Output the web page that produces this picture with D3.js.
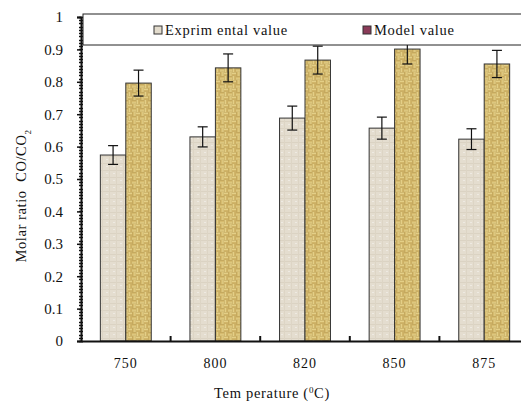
<!DOCTYPE html>
<html>
<head>
<meta charset="utf-8">
<script src="https://cdn.jsdelivr.net/npm/d3@7"></script>
<style>
  body { margin: 0; background: #fff; }
  text { font-family: "Liberation Serif", "Times New Roman", serif; fill: #111; }
</style>
</head>
<body>
<script>
var temperatures = ["750", "800", "820", "850", "875"];
var experimental = [0.574, 0.630, 0.688, 0.657, 0.623];
var experimentalErr = [0.029, 0.031, 0.037, 0.034, 0.032];
var model = [0.796, 0.843, 0.867, 0.901, 0.855];
var modelErr = [0.040, 0.043, 0.043, 0.046, 0.042];
var yTicks = [0, 0.1, 0.2, 0.3, 0.4, 0.5, 0.6, 0.7, 0.8, 0.9, 1];
var seriesNames = ["Exprim ental value", "Model value"];

var width = 521, height = 402;
var plotLeft = 81, plotRight = 529, plotTop = 17, plotBottom = 341;
var serif = '"Liberation Serif", "Times New Roman", serif';

var svg = d3.select('body').append('svg')
    .attr('width', width)
    .attr('height', height);

// fill patterns
var defs = svg.append('defs');
var p1 = defs.append('pattern').attr('id', 'linen')
    .attr('patternUnits', 'userSpaceOnUse').attr('width', 7).attr('height', 7);
p1.append('rect').attr('width', 7).attr('height', 7).attr('fill', '#e4ddcf');
p1.append('rect').attr('x', 0).attr('y', 2).attr('width', 7).attr('height', 1).attr('fill', '#dbd3c3');
p1.append('rect').attr('x', 4).attr('y', 0).attr('width', 1).attr('height', 7).attr('fill', '#ddd5c5');
p1.append('rect').attr('x', 1).attr('y', 5).attr('width', 2).attr('height', 1).attr('fill', '#eeeae2');

// basket weave
var p2 = defs.append('pattern').attr('id', 'weave')
    .attr('patternUnits', 'userSpaceOnUse').attr('width', 8).attr('height', 8);
p2.append('rect').attr('width', 8).attr('height', 8).attr('fill', '#a3843f');
p2.append('rect').attr('x', 0).attr('y', 0.4).attr('width', 4).attr('height', 1.5).attr('fill', '#ecd88f');
p2.append('rect').attr('x', 0).attr('y', 2.2).attr('width', 4).attr('height', 1.5).attr('fill', '#dcc173');
p2.append('rect').attr('x', 4.4).attr('y', 0).attr('width', 1.5).attr('height', 4).attr('fill', '#dcc173');
p2.append('rect').attr('x', 6.2).attr('y', 0).attr('width', 1.5).attr('height', 4).attr('fill', '#ecd88f');
p2.append('rect').attr('x', 0.4).attr('y', 4).attr('width', 1.5).attr('height', 4).attr('fill', '#ecd88f');
p2.append('rect').attr('x', 2.2).attr('y', 4).attr('width', 1.5).attr('height', 4).attr('fill', '#dcc173');
p2.append('rect').attr('x', 4).attr('y', 4.4).attr('width', 4).attr('height', 1.5).attr('fill', '#dcc173');
p2.append('rect').attr('x', 4).attr('y', 6.2).attr('width', 4).attr('height', 1.5).attr('fill', '#ecd88f');

var y = d3.scaleLinear().domain([0, 1]).range([plotBottom, plotTop]);
var x = d3.scaleBand().domain(temperatures).range([plotLeft, plotRight]);
var inner = d3.scaleBand().domain([0, 1]).range([0, x.bandwidth()]).paddingOuter(0.76).paddingInner(0);

var chartGroup = svg.append('g');

var series = [
  { vals: experimental, errs: experimentalErr, fill: 'url(#linen)' },
  { vals: model, errs: modelErr, fill: 'url(#weave)' }
];

series.forEach(function(s, si) {
  chartGroup.selectAll('.bar' + si).data(temperatures).enter().append('rect')
      .attr('x', function(d) { return x(d) + inner(si); })
      .attr('y', function(d, i) { return y(s.vals[i]); })
      .attr('width', inner.bandwidth())
      .attr('height', function(d, i) { return plotBottom - y(s.vals[i]); })
      .attr('fill', s.fill)
      .attr('stroke', '#333')
      .attr('stroke-width', 1);
});

series.forEach(function(s, si) {
  var g = chartGroup.selectAll('.err' + si).data(temperatures).enter().append('g')
      .attr('stroke', '#111').attr('stroke-width', 1.2);
  var cx = function(d) { return x(d) + inner(si) + inner.bandwidth() / 2; };
  g.append('line')
      .attr('x1', cx).attr('x2', cx)
      .attr('y1', function(d, i) { return y(s.vals[i] + s.errs[i]); })
      .attr('y2', function(d, i) { return y(s.vals[i] - s.errs[i]); });
  [1, -1].forEach(function(sign) {
    g.append('line')
        .attr('x1', function(d) { return cx(d) - 5; })
        .attr('x2', function(d) { return cx(d) + 5; })
        .attr('y1', function(d, i) { return y(s.vals[i] + sign * s.errs[i]); })
        .attr('y2', function(d, i) { return y(s.vals[i] + sign * s.errs[i]); });
  });
});

// y axis with minor ticks
var minor = d3.range(0, 1.0001, 0.01);
chartGroup.append('g').selectAll('line').data(minor).enter().append('line')
    .attr('x1', plotLeft - 2).attr('x2', plotLeft + 2)
    .attr('y1', function(d) { return Math.round(y(d)) + 0.5; })
    .attr('y2', function(d) { return Math.round(y(d)) + 0.5; })
    .attr('stroke', '#111').attr('stroke-width', 1.5);

var yAxis = d3.axisLeft(y).tickValues(yTicks)
    .tickFormat(function(d) { return d === 0 || d === 1 ? d3.format('d')(d) : d3.format('.1f')(d); })
    .tickSize(4).tickPadding(14);
var yg = chartGroup.append('g').attr('transform', 'translate(' + plotLeft + ',0)').call(yAxis)
    .attr('font-family', serif);
yg.select('.domain').attr('stroke', '#111').attr('stroke-width', 2);
yg.selectAll('.tick line').attr('stroke', '#111').attr('stroke-width', 1.5);
yg.selectAll('.tick text').style('font-size', '15px').attr('font-family', serif);

// x axis
var xAxis = d3.axisBottom(x).tickSize(0).tickPadding(17);
var xg = chartGroup.append('g').attr('transform', 'translate(0,' + plotBottom + ')').call(xAxis)
    .attr('font-family', serif);
xg.select('.domain').attr('stroke', '#111').attr('stroke-width', 2);
xg.selectAll('.tick text').style('font-size', '14px').attr('font-family', serif).attr('letter-spacing', '1');
xg.append('g').selectAll('line').data(temperatures.slice(1)).enter().append('line')
    .attr('x1', function(d) { return x(d); }).attr('x2', function(d) { return x(d); })
    .attr('y1', 0).attr('y2', -5)
    .attr('stroke', '#111').attr('stroke-width', 2);

// legend box
var legend = svg.append('g');
legend.append('rect').attr('x', 83).attr('y', 14).attr('width', 460).attr('height', 31)
    .attr('fill', '#fff').attr('stroke', '#222').attr('stroke-width', 1);
var legendX = [154, 363];
var swatch = ['#e3dccd', '#8a3b58'];
seriesNames.forEach(function(name, i) {
  legend.append('rect').attr('x', legendX[i]).attr('y', 26).attr('width', 8).attr('height', 8)
      .attr('fill', swatch[i]).attr('stroke', '#333').attr('stroke-width', 1);
  legend.append('text').attr('x', legendX[i] + 11).attr('y', 35).attr('font-family', serif)
      .style('font-size', '14.5px').attr('letter-spacing', '0.7').text(name);
});

// axis titles
svg.append('text').attr('x', 272).attr('y', 398).attr('text-anchor', 'middle').attr('font-family', serif)
    .style('font-size', '14.5px').attr('letter-spacing', '0.7')
    .html('Tem perature (<tspan baseline-shift="super" font-size="9px">0</tspan>C)');
svg.append('text').attr('transform', 'translate(26,196) rotate(-90)').attr('text-anchor', 'middle').attr('font-family', serif)
    .style('font-size', '14.5px').attr('letter-spacing', '0.6')
    .html('Molar ratio &#160;CO/CO<tspan baseline-shift="sub" font-size="9px">2</tspan>');
</script>
</body>
</html>
